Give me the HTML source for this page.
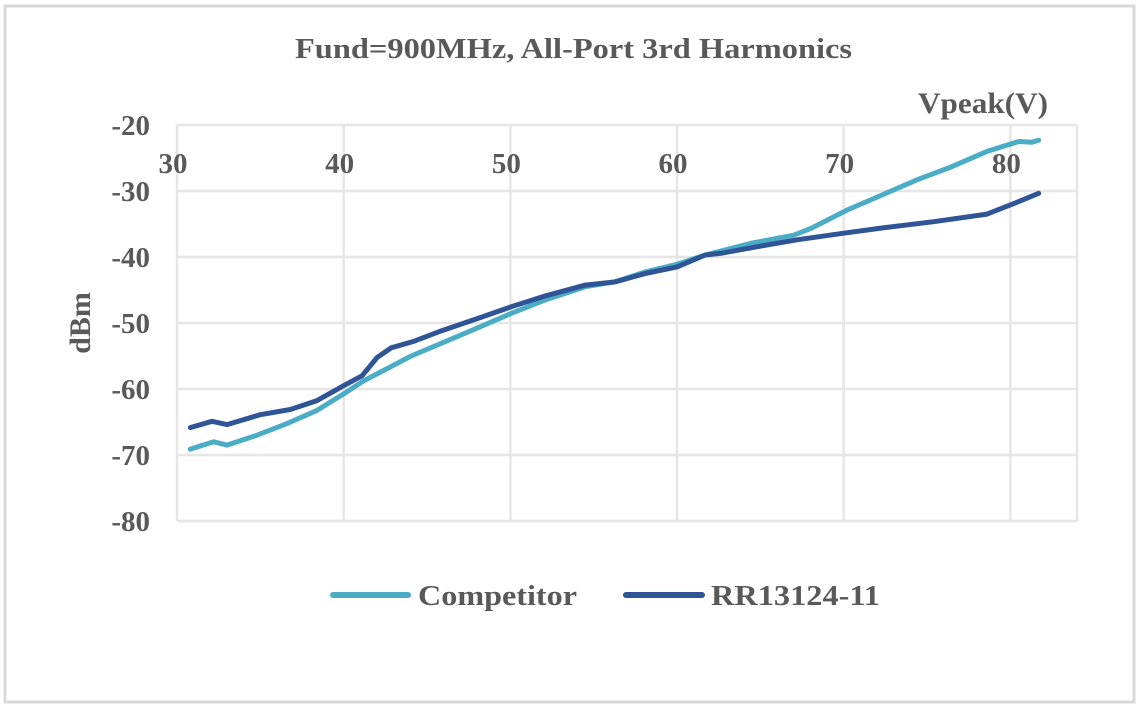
<!DOCTYPE html>
<html><head><meta charset="utf-8"><style>
html,body{margin:0;padding:0;background:#fff;}
svg{display:block;}
text{font-family:"Liberation Serif",serif;font-weight:bold;fill:#595959;}
</style></head><body>
<svg id="chart" width="1145" height="709" viewBox="0 0 1145 709">
<rect x="5" y="6" width="1129" height="696" fill="#fff" stroke="#d9d9d9" stroke-width="3"/>
<text x="295" y="58" font-size="28" textLength="557" lengthAdjust="spacingAndGlyphs">Fund=900MHz, All-Port 3rd Harmonics</text>
<text x="918" y="113" font-size="30" textLength="130" lengthAdjust="spacingAndGlyphs">Vpeak(V)</text>
<text transform="translate(90,323) rotate(-90)" font-size="30" text-anchor="middle">dBm</text>
<g id="grid"></g>
<g id="ylabels"></g>
<g id="xlabels"></g>
<g id="series"></g>
<g>
<line x1="333" y1="595" x2="408" y2="595" stroke="#4bacc6" stroke-width="6" stroke-linecap="round"/>
<text x="418" y="605" font-size="29" textLength="159" lengthAdjust="spacingAndGlyphs">Competitor</text>
<line x1="626" y1="595" x2="702" y2="595" stroke="#2f5597" stroke-width="6" stroke-linecap="round"/>
<text x="711" y="605" font-size="29" textLength="169" lengthAdjust="spacingAndGlyphs">RR13124-11</text>
</g>
</svg>
<script>
const xTicks=[30,40,50,60,70,80];
const yTicks=[-20,-30,-40,-50,-60,-70,-80];
const compV=[30.8,32.2,33.0,34.8,36.6,38.4,40.0,41.2,44.05,47.1,50.1,52.1,54.5,56.3,58.1,60.0,61.7,64.5,67.0,68.05,70.2,72.3,74.4,76.5,78.6,80.5,81.3,81.7];
const compDb=[-69.1,-68.0,-68.5,-67.0,-65.25,-63.25,-60.75,-58.75,-55.0,-51.75,-48.5,-46.5,-44.5,-43.75,-42.25,-41.1,-39.7,-37.9,-36.7,-35.65,-32.9,-30.6,-28.3,-26.3,-24.0,-22.5,-22.6,-22.3];
const rrV=[30.8,32.1,33.0,35.0,36.8,38.4,40.0,41.1,42.0,42.85,44.25,45.9,48.1,50.1,52.1,54.5,56.3,58.1,60.0,61.7,62.6,64.9,67.2,70.0,72.3,75.4,78.6,79.5,80.5,81.7];
const rrDb=[-65.85,-64.9,-65.4,-63.9,-63.1,-61.75,-59.5,-58.0,-55.25,-53.75,-52.75,-51.15,-49.25,-47.5,-45.9,-44.25,-43.75,-42.5,-41.5,-39.7,-39.45,-38.4,-37.4,-36.4,-35.6,-34.65,-33.5,-32.6,-31.6,-30.35];
const NS='http://www.w3.org/2000/svg';
const X0=177,X1=1077,Y0=125,Y1=521;
const xs=v=>X0+(v-30)*(X1-X0)/54;
const ys=d=>Y0+(-20-d)*(Y1-Y0)/60;
const grid=document.getElementById('grid');
yTicks.forEach(t=>{
 const l=document.createElementNS(NS,'line');
 l.setAttribute('x1',X0);l.setAttribute('x2',X1);l.setAttribute('y1',ys(t));l.setAttribute('y2',ys(t));
 l.setAttribute('stroke','#e6e6e6');l.setAttribute('stroke-width','2.5');
 
 
 grid.appendChild(l);
 const tx=document.createElementNS(NS,'text');
 tx.setAttribute('x',150);tx.setAttribute('y',ys(t)+10);tx.setAttribute('font-size','29');tx.setAttribute('text-anchor','end');
 tx.textContent=t;
 
 
 document.getElementById('ylabels').appendChild(tx);
});
[...xTicks,84].forEach(t=>{
 const l=document.createElementNS(NS,'line');
 l.setAttribute('x1',xs(t));l.setAttribute('x2',xs(t));l.setAttribute('y1',Y0);l.setAttribute('y2',Y1);
 l.setAttribute('stroke','#e6e6e6');l.setAttribute('stroke-width','2.5');
 
 
 grid.appendChild(l);
});
xTicks.forEach(t=>{
 const tx=document.createElementNS(NS,'text');
 tx.setAttribute('x',xs(t)-4);tx.setAttribute('y',173);tx.setAttribute('font-size','29');tx.setAttribute('text-anchor','middle');
 tx.textContent=t;
 
 
 document.getElementById('xlabels').appendChild(tx);
});
function drawLine(vs,ds,color,name){
 const p=document.createElementNS(NS,'polyline');
 p.setAttribute('points',vs.map((v,i)=>xs(v).toFixed(1)+','+ys(ds[i]).toFixed(1)).join(' '));
 p.setAttribute('fill','none');p.setAttribute('stroke',color);p.setAttribute('stroke-width','5');
 p.setAttribute('stroke-linecap','round');p.setAttribute('stroke-linejoin','round');
 
 
 document.getElementById('series').appendChild(p);
}
drawLine(compV,compDb,'#4bacc6','competitor-line');
drawLine(rrV,rrDb,'#2f5597','rr13124-11-line');
</script>
</body></html>
